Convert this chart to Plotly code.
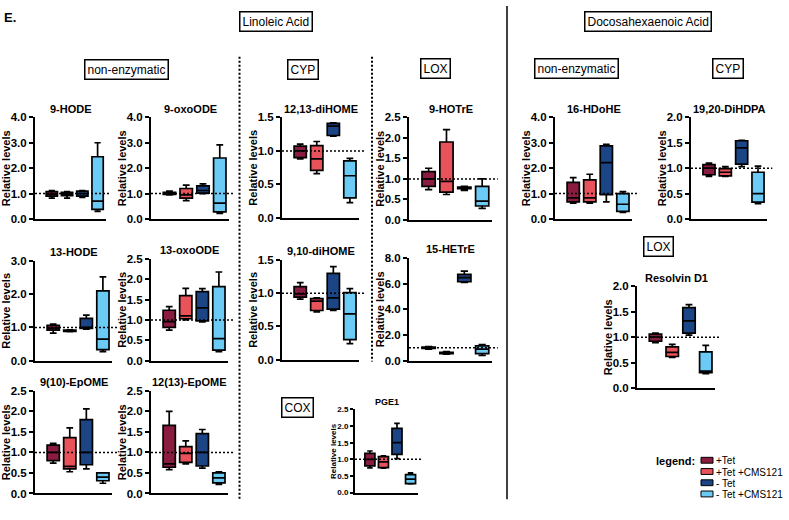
import plotly.graph_objects as go

W, H = 789, 520

GROUPS = ["+Tet", "+Tet +CMS121", "- Tet", "- Tet +CMS121"]
COLORS = ["#8A1C3F", "#E8535B", "#1B4584", "#6BCBF5"]

# each analyte: rows = [whisker min, Q1, median, Q3, whisker max]; columns follow GROUPS
HODE_9 = [[0.82, 0.82, 0.85, 0.30], [0.90, 0.92, 0.90, 0.38], [0.98, 0.98, 1.00, 0.70], [1.08, 1.05, 1.10, 2.45], [1.12, 1.08, 1.12, 3.00]]
OXOODE_9 = [[0.95, 0.72, 1.00, 0.22], [0.97, 0.82, 1.02, 0.28], [1.00, 0.95, 1.12, 0.62], [1.05, 1.20, 1.30, 2.40], [1.10, 1.33, 1.38, 2.92]]
HODE_13 = [[0.83, 0.87, 0.95, 0.27], [0.92, 0.88, 0.97, 0.33], [0.98, 0.90, 0.99, 0.65], [1.06, 0.92, 1.27, 2.10], [1.10, 0.93, 1.37, 2.52]]
OXOODE_13 = [[0.75, 1.00, 0.95, 0.22], [0.82, 1.03, 0.98, 0.26], [0.96, 1.10, 1.30, 0.54], [1.24, 1.60, 1.70, 1.82], [1.33, 1.78, 1.77, 2.18]]
EPOME_910 = [[0.74, 0.53, 0.60, 0.25], [0.80, 0.60, 0.70, 0.31], [1.00, 0.66, 1.00, 0.40], [1.18, 1.36, 1.80, 0.50], [1.22, 1.60, 2.06, 0.50]]
EPOME_1213 = [[0.58, 0.72, 0.62, 0.22], [0.64, 0.76, 0.67, 0.26], [0.72, 0.98, 1.00, 0.38], [1.66, 1.14, 1.46, 0.50], [2.00, 1.28, 1.56, 0.53]]
DIHOME_1213 = [[0.88, 0.66, 1.22, 0.23], [0.90, 0.71, 1.23, 0.30], [1.00, 0.88, 1.37, 0.63], [1.07, 1.08, 1.41, 0.85], [1.10, 1.14, 1.42, 0.89]]
HOTRE_9 = [[0.74, 0.62, 0.72, 0.28], [0.82, 0.68, 0.76, 0.34], [1.00, 0.94, 0.78, 0.46], [1.18, 1.90, 0.80, 0.82], [1.26, 2.20, 0.82, 1.00]]
DIHOME_910 = [[0.91, 0.72, 0.74, 0.24], [0.94, 0.74, 0.76, 0.30], [0.99, 0.88, 0.93, 0.69], [1.10, 0.92, 1.30, 1.01], [1.16, 0.93, 1.40, 1.07]]
HETRE_15 = [[0.90, 0.50, 6.10, 0.40], [0.95, 0.55, 6.15, 0.55], [1.00, 0.60, 6.47, 0.90], [1.05, 0.65, 6.73, 1.15], [1.10, 0.70, 6.98, 1.25]]
PGE1 = [[0.74, 0.73, 1.02, 0.26], [0.80, 0.75, 1.15, 0.27], [1.00, 0.92, 1.50, 0.40], [1.18, 1.08, 1.93, 0.54], [1.25, 1.10, 2.08, 0.59]]
HDOHE_16 = [[0.62, 0.62, 0.67, 0.26], [0.67, 0.67, 0.96, 0.30], [0.83, 0.83, 2.22, 0.58], [1.44, 1.54, 2.88, 1.00], [1.63, 1.76, 2.94, 1.08]]
DIHDPA_1920 = [[0.84, 0.84, 1.03, 0.30], [0.87, 0.85, 1.08, 0.33], [1.00, 0.92, 1.40, 0.50], [1.07, 0.99, 1.54, 0.92], [1.10, 1.03, 1.55, 1.04]]
RESOLVIN_D1 = [[0.89, 0.60, 1.04, 0.28], [0.92, 0.62, 1.08, 0.30], [1.00, 0.70, 1.32, 0.33], [1.06, 0.81, 1.58, 0.71], [1.08, 0.86, 1.64, 0.84]]

TITLES = ["9-HODE", "9-oxoODE", "13-HODE", "13-oxoODE", "9(10)-EpOME", "12(13)-EpOME",
          "12,13-diHOME", "9-HOTrE", "9,10-diHOME", "15-HETrE", "PGE1",
          "16-HDoHE", "19,20-DiHDPA", "Resolvin D1"]
DATA = [HODE_9, OXOODE_9, HODE_13, OXOODE_13, EPOME_910, EPOME_1213,
        DIHOME_1213, HOTRE_9, DIHOME_910, HETRE_15, PGE1,
        HDOHE_16, DIHDPA_1920, RESOLVIN_D1]
YMAX = [4, 4, 3, 2.5, 2.5, 2.5, 1.5, 2.5, 1.5, 8, 2.5, 4, 2, 2]
DTICK = [1, 1, 1, 0.5, 0.5, 0.5, 0.5, 0.5, 0.5, 2, 0.5, 1, 0.5, 0.5]

# layout in pixels: (x axis start, x axis end, y pixel of top tick, y pixel of zero, small font)
LAYOUT_PX = [
    (35, 106, 114, 218, False), (151, 229, 114, 218, False),
    (35, 112, 261, 363, False), (151, 228, 259, 363, False),
    (35, 112, 394, 499, False), (151, 228, 394, 499, False),
    (282, 359, 114, 217, False), (409, 492, 114, 219, False),
    (282, 359, 260, 362, False), (409, 492, 258, 363, False),
    (355, 418, 413, 498, True),
    (555, 632, 114, 218, False), (691, 767, 114, 218, False),
    (637, 715, 287, 391, False),
]

FONT = "Arial, Liberation Sans, sans-serif"

fig = go.Figure()
shapes = []
annotations = []

for i, (title, d, ymax, dt, (x0, x1, yt, yb, small)) in enumerate(
        zip(TITLES, DATA, YMAX, DTICK, LAYOUT_PX), start=1):
    sfx = "" if i == 1 else str(i)
    xa, ya = f"x{sfx}", f"y{sfx}"
    for g in range(4):
        fig.add_trace(go.Box(
            x=[g], lowerfence=[d[0][g]], q1=[d[1][g]], median=[d[2][g]],
            q3=[d[3][g]], upperfence=[d[4][g]],
            fillcolor=COLORS[g], line=dict(color="black", width=1.7),
            width=0.74, whiskerwidth=0.55, boxpoints=False,
            xaxis=xa, yaxis=ya, showlegend=False, hoverinfo="skip"))
    fs = 8 if small else 11.5
    fig.update_layout(**{
        f"xaxis{sfx}": dict(domain=[x0 / W, x1 / W], range=[-1.1, 3.55], anchor=ya,
                            showline=True, linecolor="black", linewidth=2,
                            showticklabels=False, ticks="", showgrid=False, zeroline=False,
                            fixedrange=True),
        f"yaxis{sfx}": dict(domain=[(H - yb) / H, (H - yt) / H], range=[0, ymax], anchor=xa,
                            tick0=0, dtick=dt, tickformat=".1f", ticks="outside",
                            ticklen=3 if small else 4, tickwidth=1.5, tickcolor="black",
                            showline=True, linecolor="black", linewidth=2,
                            showgrid=False, zeroline=False, fixedrange=True,
                            tickfont=dict(family=FONT, size=fs, color="black", weight="bold")),
    })
    shapes.append(dict(type="line", xref=f"{xa} domain", yref=ya, x0=0, x1=1.07, y0=1, y1=1,
                       line=dict(color="black", width=1.5, dash="2px,2px"), layer="above"))
    annotations.append(dict(text=title, x=(x0 + x1) / 2 / W, y=1 - (yt - 9 if not small else yt - 8) / H,
                            xref="paper", yref="paper", showarrow=False, xanchor="center",
                            yanchor="middle",
                            font=dict(family=FONT, size=9 if small else 11, color="black", weight="bold")))
    off = 21 if small else 29
    annotations.append(dict(text="Relative levels", x=(x0 - off) / W, y=1 - (yt + yb) / 2 / H,
                            xref="paper", yref="paper", showarrow=False, textangle=-90,
                            xanchor="center", yanchor="middle",
                            font=dict(family=FONT, size=8 if small else 11, color="black", weight="bold")))

# group label boxes
BOX_LABELS = ["Linoleic Acid", "Docosahexaenoic Acid", "non-enzymatic", "CYP", "LOX",
              "non-enzymatic", "CYP", "LOX", "COX"]
BOX_POS = [(276, 16), (648, 16), (126, 65), (303, 65), (435, 64), (576, 64), (728, 64),
           (658, 246), (297, 411)]
for lab, (px, py) in zip(BOX_LABELS, BOX_POS):
    annotations.append(dict(text=lab, x=px / W, y=1 - py / H, xref="paper", yref="paper",
                            showarrow=False, xanchor="center", yanchor="middle",
                            bordercolor="black", borderwidth=1.5, borderpad=2, bgcolor="white",
                            font=dict(family=FONT, size=12, color="black")))

annotations.append(dict(text="E.", x=2 / W, y=1 - 12 / H, xref="paper", yref="paper",
                        showarrow=False, xanchor="left", yanchor="middle",
                        font=dict(family=FONT, size=13, color="black", weight="bold")))

# separators
shapes.append(dict(type="line", xref="paper", yref="paper", x0=239.5 / W, x1=239.5 / W,
                   y0=1 - 52 / H, y1=1 - 505 / H, line=dict(color="black", width=2, dash="2px,2px")))
shapes.append(dict(type="line", xref="paper", yref="paper", x0=372 / W, x1=372 / W,
                   y0=1 - 52 / H, y1=1 - 364 / H, line=dict(color="black", width=2, dash="2px,2px")))
shapes.append(dict(type="line", xref="paper", yref="paper", x0=507 / W, x1=507 / W,
                   y0=1, y1=1 - 505 / H, line=dict(color="black", width=1.5)))

# legend
annotations.append(dict(text="legend:", x=697 / W, y=1 - 466 / H, xref="paper", yref="paper",
                        showarrow=False, xanchor="right", yanchor="middle",
                        font=dict(family=FONT, size=11, color="black", weight="bold")))
for g, (lab, col) in enumerate(zip(GROUPS, COLORS)):
    cy = 465 + g * 11.5
    shapes.append(dict(type="rect", xref="paper", yref="paper", x0=701 / W, x1=713 / W,
                       y0=1 - (cy - 3) / H, y1=1 - (cy + 3) / H,
                       fillcolor=col, line=dict(color="black", width=1)))
    annotations.append(dict(text=lab, x=714 / W, y=1 - cy / H, xref="paper", yref="paper",
                            showarrow=False, xanchor="left", yanchor="middle", height=10,
                            font=dict(family=FONT, size=10, color="black")))

fig.update_layout(width=W, height=H, margin=dict(l=0, r=0, t=0, b=0),
                  paper_bgcolor="white", plot_bgcolor="white", boxmode="overlay",
                  shapes=shapes, annotations=annotations, showlegend=False)

fig.write_html("out.html", config={"displayModeBar": False},
               post_script="document.body.style.margin='0';")
